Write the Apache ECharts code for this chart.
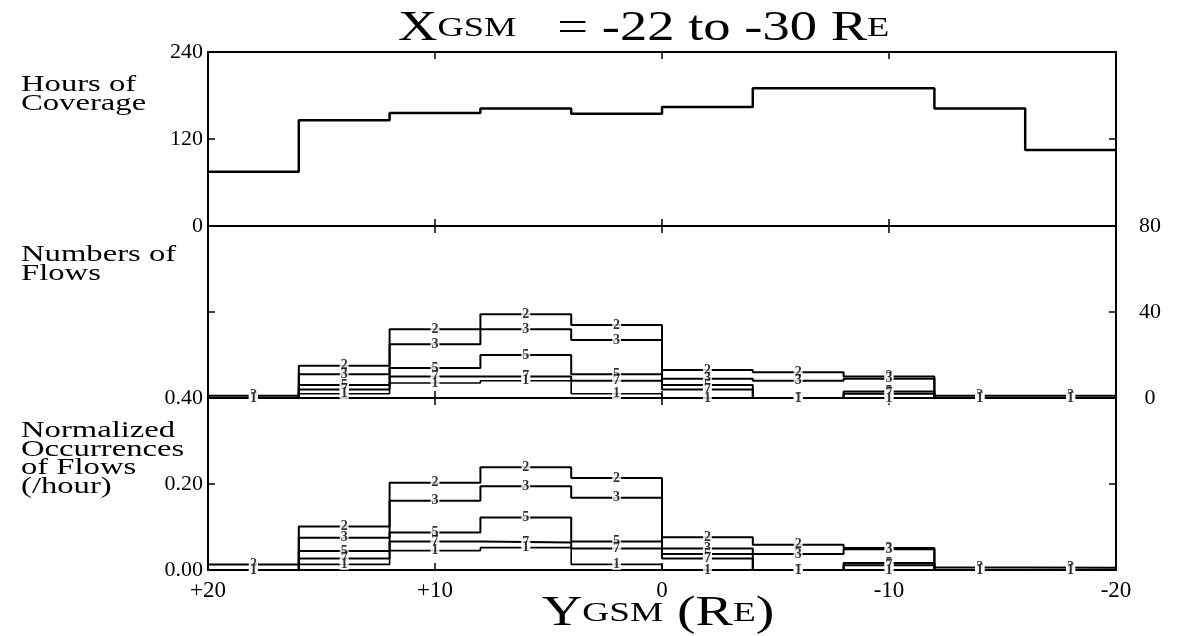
<!DOCTYPE html>
<html>
<head>
<meta charset="utf-8">
<script src="https://cdn.jsdelivr.net/npm/echarts@6/dist/echarts.min.js"></script>
<style>
  html, body { margin: 0; padding: 0; background: #fff; }
  #chart { width: 1188px; height: 636px; }
</style>
</head>
<body>
<div id="chart"></div>
<script>
// Y_GSM bins, 4 R_E wide, from +20 (left) to -20 (right)
const binEdges = [20, 16, 12, 8, 4, 0, -4, -8, -12, -16, -20];
const binCenters = [18, 14, 10, 6, 2, -2, -6, -10, -14, -18];
const xTickValues = [20, 10, 0, -10, -20];
const xTickLabels = ['+20', '+10', '0', '-10', '-20'];

// hours of spacecraft coverage per bin
const coverageHours = [75, 146, 156, 162, 155, 164, 190, 190, 162, 105];

// number of flows per bin, one curve per speed class tag
const flowTags = ['2', '3', '5', '7', '1'];
const flows2 = [1, 15, 32, 39, 34, 13, 12, 10, 1, 1];
const flows3 = [0, 11, 25, 32, 27, 9, 8, 9, 0, 0];
const flows5 = [0, 6, 14, 20, 11, 6, 0, 3, 0, 0];
const flows7 = [0, 4, 10, 10, 8, 4, 0, 2, 0, 0];
const flows1 = [0, 2, 7, 8, 2, 0, 0, 0, 0, 0];

// normalized occurrences (flows per hour of coverage)
const rate2 = [0.013, 0.101, 0.203, 0.239, 0.214, 0.076, 0.059, 0.051, 0.006, 0.005];
const rate3 = [0, 0.075, 0.161, 0.195, 0.168, 0.050, 0.037, 0.048, 0, 0];
const rate5 = [0, 0.044, 0.087, 0.122, 0.066, 0.037, 0, 0.016, 0, 0];
const rate7 = [0, 0.027, 0.066, 0.064, 0.050, 0.027, 0, 0.011, 0, 0];
const rate1 = [0, 0.013, 0.045, 0.052, 0.013, 0, 0, 0, 0, 0];

const hoursTicks = [0, 120, 240];
const flowTicks = [0, 40, 80];
const rateTickLabels = ['0.00', '0.20', '0.40'];

const flowSets = [flows2, flows3, flows5, flows7, flows1];
const rateSets = [rate2, rate3, rate5, rate7, rate1];

const SERIF = '"Liberation Serif", "Times New Roman", serif';

// histogram outline: one point per bin edge, held flat until the next edge
function stepData(vals) {
  return binEdges.map((e, i) => [e, vals[Math.min(i, vals.length - 1)]]);
}
function centerData(vals) {
  return binCenters.map((c, i) => [c, vals[i]]);
}

const axisLine = { show: true, onZero: false, lineStyle: { color: '#000', width: 2 } };
const tickIn = { show: true, inside: true, length: 7, lineStyle: { color: '#000', width: 1.5 } };
const tickFont = { fontFamily: SERIF, fontSize: 22, color: '#000' };

const gridBoxes = [
  { left: 208, right: 72, top: 52, height: 174 },
  { left: 208, right: 72, top: 226, height: 172 },
  { left: 208, right: 72, top: 398, height: 172 }
];

const xAxes = [];
gridBoxes.forEach((g, gi) => {
  ['bottom', 'top'].forEach(pos => {
    xAxes.push({
      gridIndex: gi, type: 'value', min: -20, max: 20, interval: 10, inverse: true,
      position: pos, axisLine: axisLine, axisTick: tickIn, splitLine: { show: false },
      axisLabel: {
        show: gi === 2 && pos === 'bottom', margin: 9, fontFamily: SERIF, fontSize: 23, color: '#000',
        showMinLabel: true, showMaxLabel: true,
        formatter: v => xTickLabels[xTickValues.indexOf(v)]
      }
    });
  });
});

function yPair(gi, max, interval, labelSide, formatter, labelOpts) {
  return ['left', 'right'].map(pos => ({
    gridIndex: gi, type: 'value', min: 0, max: max, interval: interval, position: pos,
    axisLine: axisLine, axisTick: tickIn, splitLine: { show: false },
    axisLabel: Object.assign({
      show: pos === labelSide, ...tickFont, showMinLabel: true, showMaxLabel: true,
      formatter: formatter
    }, labelOpts || {})
  }));
}

const yAxes = [].concat(
  yPair(0, 240, 120, 'left', v => String(hoursTicks[hoursTicks.indexOf(v)]), { margin: 5 }),
  yPair(1, 80, 40, 'right', v => String(flowTicks[flowTicks.indexOf(v)]), { margin: 34, align: 'center' }),
  yPair(2, 0.4, 0.2, 'left', v => rateTickLabels[Math.round(v / 0.2)], { margin: 5 })
);

const series = [];

// hours of coverage
series.push({
  type: 'line', name: 'coverage', xAxisIndex: 0, yAxisIndex: 0,
  data: stepData(coverageHours), step: 'end', showSymbol: false, silent: true,
  lineStyle: { color: '#000', width: 2.5 }, z: 3
});

function addPanel(sets, xi, yi) {
  sets.forEach((vals, k) => {
    series.push({
      type: 'line', name: 'p' + xi + '_' + flowTags[k], xAxisIndex: xi, yAxisIndex: yi,
      data: stepData(vals), step: 'end', showSymbol: false, silent: true,
      lineStyle: { color: '#000', width: k < 4 ? 2 : 1.6 }, z: 3
    });
  });
  sets.forEach((vals, k) => {
    series.push({
      type: 'scatter', name: 'tag' + xi + '_' + flowTags[k], xAxisIndex: xi, yAxisIndex: yi,
      data: centerData(vals), symbolSize: 1, silent: true, z: 10,
      itemStyle: { color: 'rgba(0,0,0,0)' },
      label: {
        show: true, position: 'inside', formatter: flowTags[k],
        fontFamily: SERIF, fontSize: 14, fontWeight: 'bold', color: '#000',
        backgroundColor: '#fff', padding: [0, 1], lineHeight: 11
      }
    });
  });
}
addPanel(flowSets, 2, 2);
addPanel(rateSets, 4, 4);

const textStyle = (text, size, lh) => ({
  text: text, fill: '#000', fontFamily: SERIF, fontSize: size, lineHeight: lh,
  align: 'left', verticalAlign: 'top'
});
const capsRich = {
  big: { fontFamily: SERIF, fontSize: 42, fill: '#000' },
  small: { fontFamily: SERIF, fontSize: 28, fill: '#000' }
};

const graphic = [
  { type: 'text', x: 398, y: 8, scaleX: 1.3, silent: true,
    style: { text: '{big|X}{small|GSM}{big|   = -22 to -30 R}{small|E}', rich: capsRich,
             fill: '#000', align: 'left', verticalAlign: 'top' } },
  { type: 'text', x: 542, y: 593, scaleX: 1.33, silent: true,
    style: { text: '{big|Y}{small|GSM}{big| (R}{small|E}{big|)}', rich: capsRich,
             fill: '#000', align: 'left', verticalAlign: 'top' } },
  { type: 'text', x: 21, y: 75, scaleX: 1.42, silent: true, style: textStyle('Hours of\nCoverage', 23, 19) },
  { type: 'text', x: 21, y: 245, scaleX: 1.42, silent: true, style: textStyle('Numbers of\nFlows', 23, 19) },
  { type: 'text', x: 21, y: 422, scaleX: 1.42, silent: true,
    style: textStyle('Normalized\nOccurrences\nof Flows\n(/hour)', 23, 18.5) }
];

const chart = echarts.init(document.getElementById('chart'), null, { renderer: 'canvas' });
chart.setOption({
  animation: false,
  backgroundColor: '#fff',
  grid: gridBoxes,
  xAxis: xAxes,
  yAxis: yAxes,
  series: series,
  graphic: graphic
});
</script>
</body>
</html>
